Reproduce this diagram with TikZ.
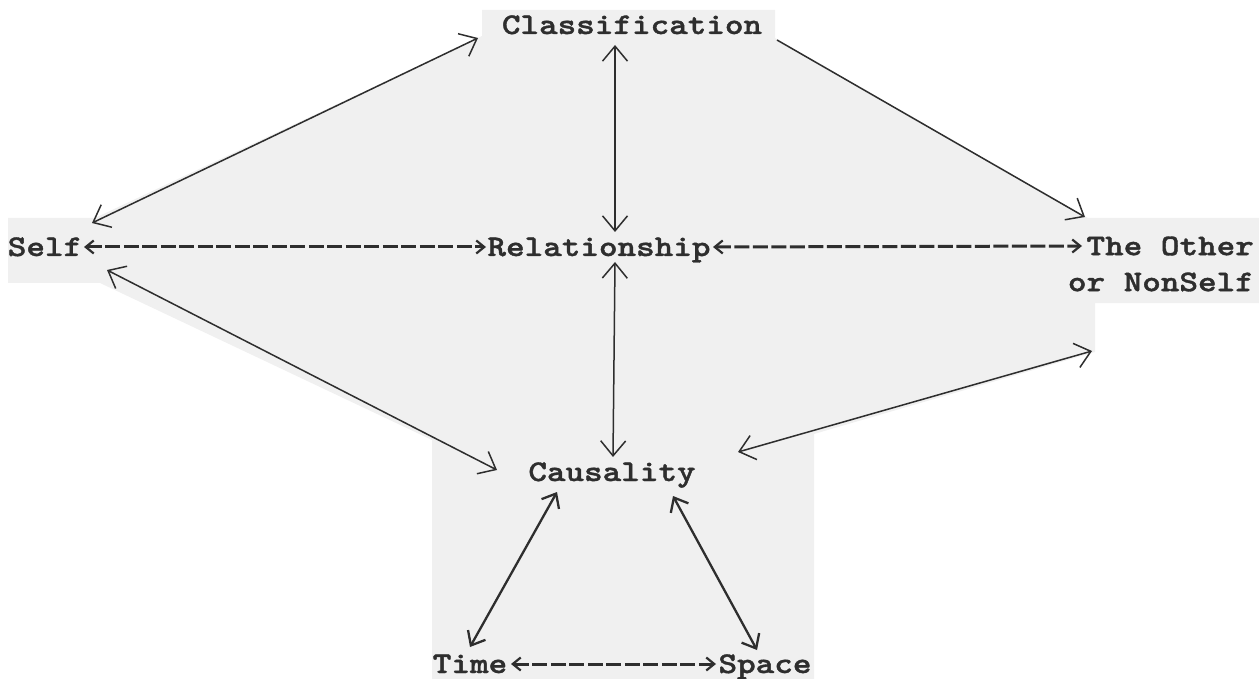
\documentclass[tikz,border=0pt]{standalone}
\usepackage{fontspec}
\usetikzlibrary{arrows.meta,calc}
\newfontfamily\typewfont{lmmonolt10-bold.otf}[FakeBold=1.2]
\definecolor{paper}{gray}{0.94}
\definecolor{ink}{gray}{0.18}
\newcommand\typed[1]{\scalebox{1.18}[1]{#1}}
\tikzset{
  lbltext/.style={font=\typewfont\fontsize{30}{36}\selectfont, text=ink, inner sep=0pt},
  lbl/.style={lbltext, text height=18pt, text depth=0pt},
  link/.style={draw=ink, line width=1.5pt, {Straight Barb[length=15pt,width=25pt]}-{Straight Barb[length=15pt,width=25pt]}},
  boldlink/.style={draw=ink, line width=2.3pt, {Straight Barb[length=12pt,width=20pt]}-{Straight Barb[length=12pt,width=20pt]}},
  onelink/.style={draw=ink, line width=1.5pt, -{Straight Barb[length=15pt,width=25pt]}},
  dashlink/.style={draw=ink, line width=3pt, dash pattern=on 15pt off 3.5pt,
    {Straight Barb[length=8pt,width=13pt,line width=2.2pt]}-{Straight Barb[length=8pt,width=13pt,line width=2.2pt]}}
}
\begin{document}
\begin{tikzpicture}[x=1pt,y=-1pt]
\useasboundingbox (0,0) rectangle (1259,679);
% scanned paper background
\fill[paper] (8,218) -- (95,218) -- (482,36) -- (482,10) -- (775,10) -- (775,38)
  -- (1088,218) -- (1259,218) -- (1259,303) -- (1095,303) -- (1095,352)
  -- (814,434) -- (814,679) -- (432,679) -- (432,440) -- (100,283) -- (8,283) -- cycle;
% labels
\node[lbl] (cls) at (632,25) {\typed{Classification}};
\node[lbl] (self) at (45,247) {\typed{Self}};
\node[lbl] (rel) at (599,247) {\typed{Relationship}};
\node[lbltext, align=right, anchor=east] (oth) at (1254,264) {\typed{The Other}\\\typed{or NonSelf}};
\node[lbl] (cau) at (612,472) {\typed{Causality}};
\node[lbl] (time) at (470,664) {\typed{Time}};
\node[lbl] (space) at (765,664) {\typed{Space}};
% connectors
\draw[link] ($(self)+(47,-24)$) -- ($(cls)+(-154,13)$);
\draw[onelink] ($(cls)+(145,15)$) -- ($(oth.east)+(-169,-47)$);
\draw[link] ($(cls)+(-17,20)$) -- ($(rel)+(16,-15)$);
\draw[link] ($(rel)+(16,15)$) -- ($(cau)+(1,-15)$);
\draw[link] ($(self)+(62,23)$) -- ($(cau)+(-115,-2)$);
\draw[link] ($(oth.east)+(-162,87)$) -- ($(cau)+(126,-20)$);
\draw[boldlink] ($(cau)+(-55,20)$) -- ($(time)+(0,-17)$);
\draw[boldlink] ($(cau)+(61,24)$) -- ($(space)+(-8,-14)$);
\draw[dashlink] ($(self)+(39,0)$) -- ($(rel)+(-113,0)$);
\draw[dashlink] ($(rel)+(114,0)$) -- ($(oth.east)+(-172,-18)$);
\draw[dashlink] ($(time)+(41,0)$) -- ($(space)+(-49,0)$);
\end{tikzpicture}
\end{document}
